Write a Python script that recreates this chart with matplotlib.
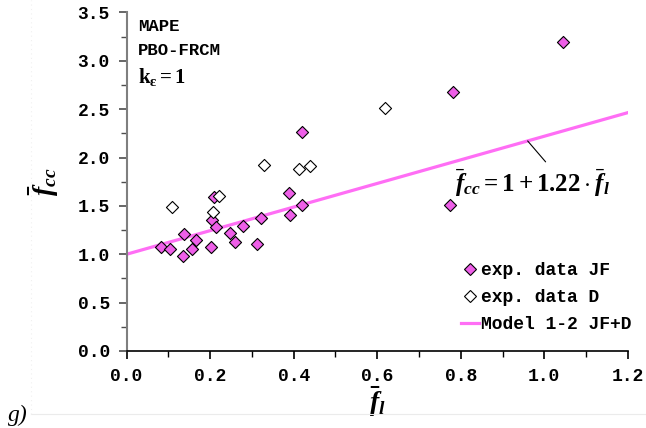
import numpy as np
import matplotlib
matplotlib.use("Agg")
import matplotlib.pyplot as plt
from matplotlib.lines import Line2D

plt.rcParams["mathtext.fontset"] = "custom"
plt.rcParams["mathtext.rm"] = "Liberation Serif:bold"
plt.rcParams["mathtext.it"] = "Liberation Serif:italic:bold"
plt.rcParams["mathtext.bf"] = "Liberation Serif:bold"

# Experimental data, JF database (normalised lateral pressure, normalised strength)
fl_jf = [0.083, 0.104, 0.136, 0.137, 0.157, 0.166, 0.201, 0.205, 0.209, 0.213,
         0.248, 0.260, 0.279, 0.313, 0.321, 0.390, 0.389, 0.419, 0.419,
         0.782, 1.044, 0.775]
fcc_jf = [1.078, 1.058, 0.986, 1.210, 1.052, 1.151, 1.072, 1.355, 1.596, 1.279,
          1.224, 1.131, 1.289, 1.103, 1.372, 1.410, 1.637, 1.507, 2.262,
          2.682, 3.192, 1.510]

# Experimental data, D database
fl_d = [0.109, 0.207, 0.220, 0.329, 0.413, 0.438, 0.619]
fcc_d = [1.489, 1.437, 1.606, 1.923, 1.882, 1.916, 2.516]

# Model 1-2: fcc = a + b * fl
model_a = 1.0
model_b = 1.22
model_range = [0.0, 1.2]

mono = "Liberation Mono"
fs = 13

fig = plt.figure(figsize=(6.46, 4.28), dpi=100)

# faint outer chart frame
fig.add_artist(Line2D([31 / 646, 1.0], [1 - 414 / 428] * 2, color="#ebebeb",
                      lw=0.8, transform=fig.transFigure))
fig.add_artist(Line2D([31 / 646] * 2, [1 - 414 / 428, 1.0], color="#f0f0f0",
                      lw=0.8, ls=(0, (1, 3)), transform=fig.transFigure))

ax = fig.add_axes([0.196, 0.180, 0.776, 0.791])

xm = np.array(model_range)
ax.plot(xm, model_a + model_b * xm, color="#FF6EF5", lw=2.3, zorder=2)

ax.scatter(fl_jf, fcc_jf, marker="D", s=38, facecolor="#EE5FE8",
           edgecolor="black", linewidth=0.8, zorder=3)
ax.scatter(fl_d, fcc_d, marker="D", s=38, facecolor="white",
           edgecolor="black", linewidth=0.8, zorder=3)

ax.set_xlim(0, 1.2)
ax.set_ylim(0, 3.5)
ax.set_xticks(np.arange(0, 1.21, 0.2))
ax.set_yticks(np.arange(0, 3.51, 0.5))
ax.set_xticks(np.arange(0.1, 1.2, 0.2), minor=True)
ax.set_yticks(np.arange(0.25, 3.5, 0.5), minor=True)
ax.set_xticklabels([f"{v:.1f}" for v in np.arange(0, 1.21, 0.2)])
ax.set_yticklabels([f"{v:.1f}" for v in np.arange(0, 3.51, 0.5)])

for s in ["top", "right"]:
    ax.spines[s].set_visible(False)
ax.spines["left"].set_color("#7f7f7f")
ax.spines["left"].set_linewidth(1.5)
ax.spines["bottom"].set_color("black")
ax.spines["bottom"].set_linewidth(1.2)

ax.tick_params(axis="y", which="major", direction="out", length=6, width=1.2,
               color="#4d4d4d", pad=6)
ax.tick_params(axis="y", which="minor", direction="out", length=4, width=1.0,
               color="#4d4d4d")
ax.tick_params(axis="x", which="major", direction="out", length=6, width=1.2,
               color="black", pad=6)
ax.tick_params(axis="x", which="minor", direction="out", length=4, width=1.0,
               color="black")
for lab in ax.get_xticklabels() + ax.get_yticklabels():
    lab.set_fontfamily(mono)
    lab.set_fontweight("bold")
    lab.set_fontsize(fs)

ax.set_xlabel(r"$\bar{f}_{l}$", fontsize=20, labelpad=0)
ax.set_ylabel(r"$\bar{f}_{cc}$", fontsize=20, labelpad=12)

# Top-left info
ax.text(0.027, 3.43, "MAPE", family=mono, weight="bold", fontsize=12.5,
        va="top", ha="left")
ax.text(0.027, 3.18, "PBO-FRCM", family=mono, weight="bold", fontsize=12.5,
        va="top", ha="left")
ax.text(0.027, 2.95, r"$\mathrm{k_{\varepsilon} = 1}$", fontsize=15,
        va="top", ha="left")

# Model equation with leader line
ax.annotate("", xy=(0.96, model_a + model_b * 0.96), xytext=(1.003, 1.955),
            arrowprops=dict(arrowstyle="-", color="black", lw=0.8,
                            shrinkA=0, shrinkB=0))
ax.text(0.972, 1.737, r"$\bar{f}_{cc} = 1 + 1.22 \cdot \bar{f}_{l}$",
        fontsize=18, ha="center", va="center")

# Legend
handles = [
    Line2D([], [], ls="none", marker="D", ms=6, mfc="#EE5FE8", mec="black",
           mew=0.8),
    Line2D([], [], ls="none", marker="D", ms=6, mfc="white", mec="black",
           mew=0.8),
    Line2D([], [], color="#FF6EF5", lw=2.3),
]
labels = ["exp. data JF", "exp. data D", "Model 1-2 JF+D"]
leg = ax.legend(handles, labels, loc="lower right", bbox_to_anchor=(1.04, 0.005),
                frameon=False, handlelength=1.0, handletextpad=0.1,
                labelspacing=0.55,
                prop=dict(family=mono, weight="bold", size=13))
leg._legend_box.align = "right"

fig.text(0.013, 0.005, "g)", family="Liberation Serif", style="italic",
         fontsize=17, ha="left", va="bottom")

fig.savefig("out.png", dpi=100)
